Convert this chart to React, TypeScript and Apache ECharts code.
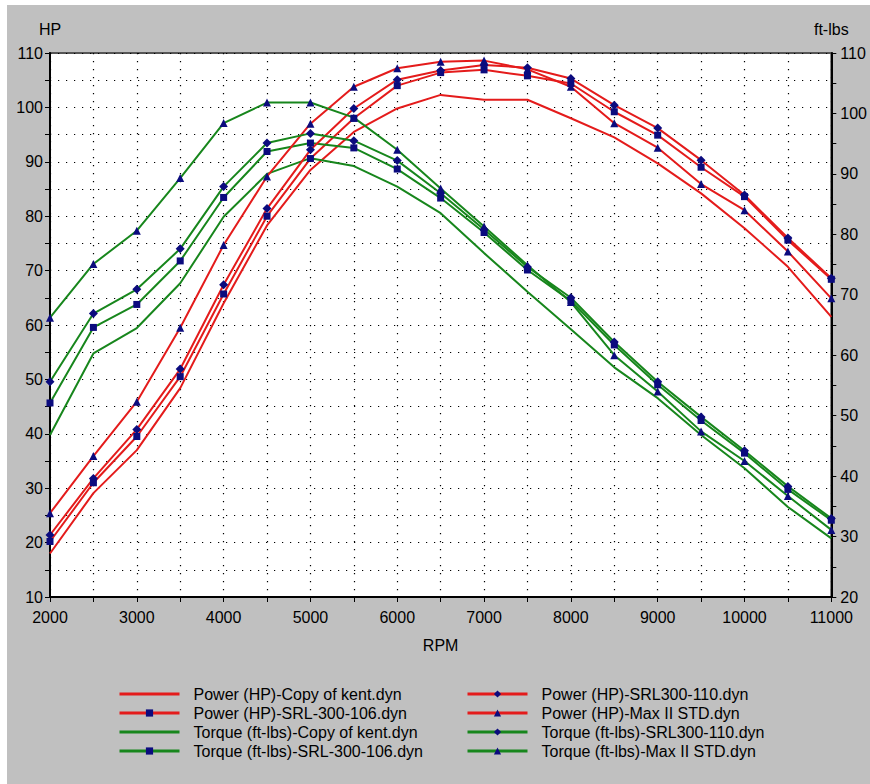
import React, { useEffect, useRef } from 'react';
import * as echarts from 'echarts';

const rpm = [2000, 2500, 3000, 3500, 4000, 4500, 5000, 5500, 6000, 6500, 7000, 7500, 8000, 8500, 9000, 9500, 10000, 10500, 11000];

const powerKent = [18.0, 29.1, 37.0, 48.4, 64.0, 78.3, 88.5, 95.5, 99.8, 102.3, 101.4, 101.4, 98.0, 94.5, 89.7, 84.2, 77.8, 70.7, 61.5];
const power106 = [20.2, 31.0, 39.5, 50.5, 65.7, 80.0, 90.6, 98.0, 104.0, 106.4, 106.9, 105.8, 104.4, 99.2, 94.9, 89.0, 83.6, 75.6, 68.4];
const power110 = [21.4, 31.8, 40.8, 51.9, 67.4, 81.4, 92.2, 99.8, 105.1, 106.8, 107.8, 107.3, 105.3, 100.4, 96.2, 90.3, 83.9, 76.0, 68.6];
const powerMax = [25.4, 35.9, 45.9, 59.5, 74.7, 87.3, 97.0, 103.8, 107.2, 108.4, 108.6, 107.0, 103.8, 97.1, 92.6, 85.9, 81.1, 73.5, 64.9];

const torqueKent = [46.8, 60.3, 64.5, 71.9, 82.9, 90.0, 92.6, 91.3, 87.9, 83.5, 76.9, 70.5, 64.3, 58.0, 52.9, 46.8, 41.3, 34.9, 29.7];
const torque106 = [52.1, 64.6, 68.4, 75.6, 86.1, 93.7, 95.1, 94.3, 90.8, 86.0, 80.3, 74.1, 69.0, 61.7, 55.1, 49.2, 43.8, 37.8, 32.7];
const torque110 = [55.6, 66.9, 70.9, 77.6, 87.9, 95.1, 96.7, 95.5, 92.2, 86.8, 80.8, 74.6, 69.5, 62.2, 55.6, 49.8, 44.2, 38.3, 33.0];
const torqueMax = [66.2, 75.1, 80.6, 89.3, 98.4, 101.8, 101.8, 99.3, 94.0, 87.6, 81.3, 74.9, 68.8, 60.0, 54.0, 47.4, 42.5, 36.7, 31.1];

const names = {
  pKent: 'Power (HP)-Copy of kent.dyn',
  p106: 'Power (HP)-SRL-300-106.dyn',
  tKent: 'Torque (ft-lbs)-Copy of kent.dyn',
  t106: 'Torque (ft-lbs)-SRL-300-106.dyn',
  p110: 'Power (HP)-SRL300-110.dyn',
  pMax: 'Power (HP)-Max II STD.dyn',
  t110: 'Torque (ft-lbs)-SRL300-110.dyn',
  tMax: 'Torque (ft-lbs)-Max II STD.dyn',
};

const RED = '#e41b1b';
const GREEN = '#17861c';
const NAVY = '#0b0b7e';
const FONT = '"Liberation Sans", Arial, sans-serif';

export default function App() {
  const ref = useRef<HTMLDivElement>(null);

  useEffect(() => {
    const chart = echarts.init(ref.current!, null, { renderer: 'svg' });

    const mk = (name: string, values: number[], color: string, axis: number, symbol: string, size: number) => ({
      name,
      type: 'line',
      yAxisIndex: axis,
      data: rpm.map((r, i) => [r, values[i]]),
      symbol,
      symbolSize: size,
      showSymbol: symbol !== 'none',
      lineStyle: { color, width: 2 },
      itemStyle: { color: symbol === 'none' ? color : NAVY },
      emphasis: { disabled: true },
      z: symbol === 'none' ? 2 : 3,
    });

    const dotted = { color: '#000', width: 1.2, type: [1.2, 6.8] as number[] };

    const legendCommon = {
      orient: 'vertical',
      itemWidth: 60,
      itemHeight: 9,
      itemGap: 3,
      selectedMode: false,
      lineStyle: { width: 3 },
      textStyle: { fontSize: 16, fontFamily: FONT, color: '#000', padding: [0, 0, 0, 9] },
    };

    const option: any = {
      animation: false,
      backgroundColor: '#c0c0c0',
      textStyle: { fontFamily: FONT },
      grid: {
        left: 43,
        right: 38,
        top: 48,
        bottom: 187,
        show: true,
        backgroundColor: '#ffffff',
        borderColor: '#555555',
        borderWidth: 2,
      },
      legend: [
        {
          ...legendCommon,
          left: 106,
          top: 676,
          data: [
            { name: names.pKent, itemStyle: { opacity: 0 } },
            { name: names.p106 },
            { name: names.tKent, itemStyle: { opacity: 0 } },
            { name: names.t106 },
          ],
        },
        {
          ...legendCommon,
          left: 454,
          top: 676,
          data: [
            { name: names.p110 },
            { name: names.pMax },
            { name: names.t110 },
            { name: names.tMax },
          ],
        },
      ],
      xAxis: {
        type: 'value',
        min: 2000,
        max: 11000,
        interval: 1000,
        name: 'RPM',
        nameLocation: 'middle',
        nameGap: 40,
        nameTextStyle: { fontSize: 16, color: '#000', fontFamily: FONT },
        axisLine: { show: true, lineStyle: { color: '#000', width: 2 } },
        axisTick: { show: true, length: 5, lineStyle: { color: '#000' } },
        minorTick: { show: true, splitNumber: 2, length: 5, lineStyle: { color: '#000' } },
        axisLabel: { fontSize: 16, color: '#000', margin: 12, fontFamily: FONT, formatter: (v: number) => String(v) },
        splitLine: { show: true, lineStyle: dotted },
        minorSplitLine: { show: true, lineStyle: dotted },
      },
      yAxis: [
        {
          type: 'value',
          min: 10,
          max: 110,
          interval: 10,
          position: 'left',
          name: 'HP',
          nameLocation: 'end',
          nameGap: 16,
          nameTextStyle: { fontSize: 16, color: '#000', fontFamily: FONT, align: 'center' },
          axisLine: { show: true, lineStyle: { color: '#000', width: 2 } },
          axisTick: { show: true, length: 5, lineStyle: { color: '#000' } },
          minorTick: { show: true, splitNumber: 2, length: 5, lineStyle: { color: '#000' } },
          axisLabel: { fontSize: 16, color: '#000', margin: 7, fontFamily: FONT, formatter: (v: number) => String(v) },
          splitLine: { show: true, lineStyle: dotted },
          minorSplitLine: { show: true, lineStyle: dotted },
        },
        {
          type: 'value',
          min: 20,
          max: 110,
          interval: 10,
          position: 'right',
          name: 'ft-lbs',
          nameLocation: 'end',
          nameGap: 16,
          nameTextStyle: { fontSize: 16, color: '#000', fontFamily: FONT, align: 'center' },
          axisLine: { show: true, lineStyle: { color: '#000', width: 2 } },
          axisTick: { show: true, length: 5, lineStyle: { color: '#000' } },
          minorTick: { show: true, splitNumber: 2, length: 5, lineStyle: { color: '#000' } },
          axisLabel: { fontSize: 16, color: '#000', margin: 9, fontFamily: FONT, formatter: (v: number) => String(v) },
          splitLine: { show: false },
        },
      ],
      series: [
        mk(names.pKent, powerKent, RED, 0, 'none', 0),
        mk(names.p106, power106, RED, 0, 'rect', 7),
        mk(names.tKent, torqueKent, GREEN, 1, 'none', 0),
        mk(names.t106, torque106, GREEN, 1, 'rect', 7),
        mk(names.p110, power110, RED, 0, 'diamond', 9),
        mk(names.pMax, powerMax, RED, 0, 'triangle', 8),
        mk(names.t110, torque110, GREEN, 1, 'diamond', 9),
        mk(names.tMax, torqueMax, GREEN, 1, 'triangle', 8),
      ],
    };

    chart.setOption(option);
    return () => chart.dispose();
  }, []);

  return (
    <div
      ref={ref}
      style={{ position: 'absolute', left: 7, top: 5, width: 863, height: 779, background: '#c0c0c0' }}
    />
  );
}
